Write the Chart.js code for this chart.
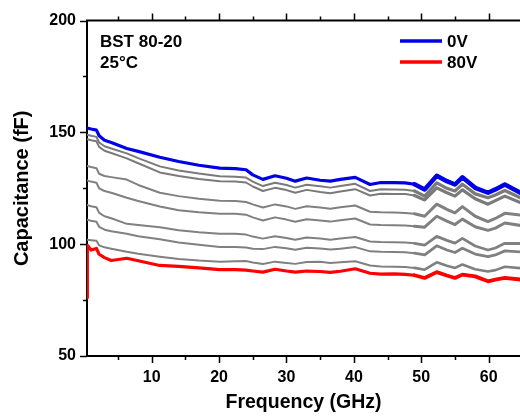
<!DOCTYPE html>
<html>
<head>
<meta charset="utf-8">
<script src="https://cdn.jsdelivr.net/npm/chart.js@4.4.1/dist/chart.umd.min.js"></script>
<style>
  html, body { margin: 0; padding: 0; background: #fff; }
  canvas { display: block; }
</style>
</head>
<body>
<canvas id="grafico" width="520" height="418"></canvas>
<script>
// frequency points (GHz), shared by all bias curves
const freq = [0.4, 0.45, 1, 1.8, 2.2, 3, 4, 6.3, 8, 11.2,
  14, 17, 20.1, 22.4, 24, 25, 26.5, 28.3, 30, 31.3,
  33, 35, 36.5, 38, 40.2, 42.4, 44, 46, 47.6, 49,
  50.5, 52.3, 53.8, 55, 56.1, 58, 59.9, 61, 62.4, 64.7];

// capacitance (fF)
const cap0V = [152, 152, 151.5, 151, 148.5, 146.5, 145.5, 142.8, 141.5, 138.9,
  137, 135.3, 134, 133.8, 133.3, 131, 129, 130.6, 129.5, 128.2,
  129.6, 128.6, 128.2, 129, 129.9, 126.7, 127.6, 127.5, 127.4, 126.8,
  124.5, 130.6, 128.2, 126.7, 129.9, 125.2, 123, 124.5, 126.7, 123];
const capMid1 = [149, 149, 148.5, 148, 145.5, 143.8, 142.8, 140.6, 138.5, 134.8,
  133, 131.6, 130.4, 130.2, 129.8, 128, 126, 127.5, 126.5, 125.3,
  126.6, 125.9, 125.3, 126, 127, 123.8, 124.6, 124.5, 124.4, 123.8,
  121.5, 127.4, 125, 123.8, 126.8, 122.5, 120.8, 122, 124, 120.8];
const capMid2 = [147, 147, 146.5, 146, 143.5, 141.8, 140.8, 138.4, 136.2, 132.1,
  130.5, 129.2, 128.2, 128, 127.6, 125.8, 123.8, 125.2, 124.2, 123,
  124.3, 123.3, 122.8, 123.6, 124.6, 121.8, 122.6, 122.5, 122.4, 121.8,
  119.8, 125.2, 123, 121.5, 124.3, 120.3, 117.9, 119.5, 121.5, 118.6];
const capMid3 = [135, 135, 134.5, 134, 131.5, 130.5, 130, 128.9, 126.5, 123,
  121.5, 120.3, 119.4, 119.3, 118.9, 117.8, 116.4, 117.8, 116.9, 115.8,
  117, 116.4, 115.9, 116.5, 117.3, 114.5, 114.3, 114.2, 114, 113.6,
  112.5, 117.9, 115.6, 114, 116.8, 112.5, 110.1, 111.5, 113.8, 113];
const capMid4 = [128.5, 128.5, 128, 127.5, 125, 123.8, 123, 120.8, 119.3, 116.9,
  115.2, 114.3, 113.6, 113.6, 113.2, 112, 110.6, 112, 111, 110,
  111.2, 110.6, 110.1, 110.7, 111.5, 108.8, 108.6, 108.5, 108.4, 108,
  107.6, 112.5, 110.3, 108.8, 111.2, 107.8, 106.2, 107.2, 109.5, 108.4];
const capMid5 = [117.5, 117.5, 117, 116.5, 114, 112.5, 111.6, 109.1, 108.6, 107.6,
  106.2, 105.3, 104.7, 104.7, 104.3, 103.4, 102.5, 103.6, 102.8, 102,
  103, 102.5, 102, 102.5, 103.2, 101.2, 101, 100.9, 100.8, 100.4,
  99.6, 103.5, 101.7, 100.5, 102.6, 99.2, 97.4, 98.3, 100.4, 100.3];
const capMid6 = [111, 111, 110.5, 110, 107.8, 106.5, 105.8, 104.7, 103.6, 102.2,
  100.8, 99.8, 98.8, 98.8, 98.5, 98, 97.8, 98.8, 98.2, 97.5,
  98.4, 98.1, 97.6, 98, 98.7, 96.8, 96.6, 96.5, 96.4, 96,
  95.2, 99.3, 97.4, 96.3, 98.2, 95.6, 94.4, 95.2, 97, 96.6];
const capMid7 = [102, 102, 101.8, 101.5, 99.5, 98.6, 98, 96.6, 95.7, 94.4,
  93.4, 92.7, 92.2, 92.4, 92.5, 91.8, 91.1, 92.2, 91.6, 91.2,
  92, 92.2, 91.6, 91.9, 92.4, 90.5, 90, 89.9, 89.8, 89.4,
  88.6, 91.9, 90.4, 89.4, 90.9, 88.8, 87.8, 88.4, 89.9, 89.3];
const cap80V = [76, 99.5, 97.4, 98.1, 95.5, 94, 92.7, 93.7, 92.6, 90.5,
  90.1, 89.4, 88.6, 88.6, 88.4, 88, 87.5, 88.8, 88, 87.5,
  88, 87.8, 87.4, 87.9, 89, 87, 86.6, 86.7, 86.5, 86.1,
  84.9, 87.5, 86, 84.9, 86.4, 85.6, 83.4, 84.2, 84.9, 84.2];

const xTicks = [5, 10, 15, 20, 25, 30, 35, 40, 45, 50, 55, 60];
const yTicks = [50, 75, 100, 125, 150, 175, 200];

const FONT = '"Liberation Sans", Arial, sans-serif';
const pontos = arr => arr.map((v, i) => ({ x: freq[i], y: v }));

// above ~49 GHz the measured traces get noisy, drawn as a wider band
function serie(label, dados, cor, largura, ruido, legenda) {
  return {
    label, data: pontos(dados), borderColor: cor, borderWidth: largura,
    borderCapStyle: 'round', borderJoinStyle: 'round',
    pointRadius: 0, tension: 0, fill: false, showInLegend: legenda,
    segment: {
      borderWidth: c => (c.p0.parsed.x >= 49 ? ruido : largura)
    }
  };
}

// blue and red first so they are painted on top of the grey curves
const datasets = [
  serie('0V', cap0V, '#0000e6', 3.2, 4.5, true),
  serie('80V', cap80V, '#ff0000', 3.2, 3.8, true),
  serie('bias 1', capMid1, '#7a7a7a', 2, 3.2, false),
  serie('bias 2', capMid2, '#7a7a7a', 2, 3.2, false),
  serie('bias 3', capMid3, '#808080', 2, 3, false),
  serie('bias 4', capMid4, '#808080', 2, 3, false),
  serie('bias 5', capMid5, '#808080', 2, 2.8, false),
  serie('bias 6', capMid6, '#808080', 2, 2.8, false),
  serie('bias 7', capMid7, '#808080', 2, 2.6, false)
];

const extras = {
  id: 'extras',
  afterDraw(chart) {
    const { ctx, chartArea: a, scales: { x, y } } = chart;
    ctx.save();
    ctx.strokeStyle = '#000';
    ctx.lineWidth = 2;
    ctx.beginPath();
    ctx.moveTo(a.left - 1, a.top);
    ctx.lineTo(a.right + 2, a.top);
    ctx.stroke();

    // tick marks, outward, minor ones shorter
    ctx.lineWidth = 1.5;
    xTicks.forEach(v => {
      const px = Math.round(x.getPixelForValue(v)) + 0.5;
      const len = v % 10 === 0 ? 7 : 4;
      ctx.beginPath();
      ctx.moveTo(px, a.bottom); ctx.lineTo(px, a.bottom + len);
      ctx.moveTo(px, a.top); ctx.lineTo(px, a.top - len);
      ctx.stroke();
    });
    yTicks.forEach(v => {
      const py = Math.round(y.getPixelForValue(v)) + 0.5;
      const len = v % 50 === 0 ? 7 : 4;
      ctx.beginPath();
      ctx.moveTo(a.left, py); ctx.lineTo(a.left - len, py);
      ctx.stroke();
    });

    // sample annotation
    ctx.fillStyle = '#000';
    ctx.font = 'bold 17px ' + FONT;
    ctx.textBaseline = 'alphabetic';
    ctx.textAlign = 'left';
    ctx.fillText('BST 80-20', 100, 47);
    ctx.fillText('25°C', 100, 68);

    // legend
    chart.data.datasets.filter(d => d.showInLegend).forEach((d, i) => {
      const ly = 41 + i * 21;
      ctx.strokeStyle = d.borderColor;
      ctx.lineWidth = 3.5;
      ctx.beginPath();
      ctx.moveTo(400, ly); ctx.lineTo(442, ly);
      ctx.stroke();
      ctx.fillStyle = '#000';
      ctx.fillText(d.label, 447, ly + 5.5);
    });
    ctx.restore();
  }
};

new Chart(document.getElementById('grafico'), {
  type: 'line',
  data: { datasets },
  options: {
    responsive: false,
    animation: false,
    devicePixelRatio: 1,
    layout: { padding: { top: 15, right: 0, left: 0, bottom: 0 } },
    plugins: { legend: { display: false }, tooltip: { enabled: false } },
    scales: {
      x: {
        type: 'linear', min: 0.4, max: 64.65,
        afterBuildTicks: s => { s.ticks = xTicks.map(v => ({ value: v })); },
        afterFit: s => { s.height = 62; },
        grid: { display: true, drawOnChartArea: false, drawTicks: false },
        border: { display: true, color: '#000', width: 2 },
        ticks: {
          autoSkip: false, maxRotation: 0, padding: 12, color: '#000',
          font: { family: FONT, size: 16, weight: 'bold' },
          callback: v => (v % 10 === 0 ? v : '')
        },
        title: {
          display: true, text: 'Frequency (GHz)', color: '#000',
          font: { family: FONT, size: 19.5, weight: 'bold' },
          padding: { top: 0, bottom: 4 }
        }
      },
      y: {
        type: 'linear', min: 50, max: 200,
        afterBuildTicks: s => { s.ticks = yTicks.map(v => ({ value: v })); },
        afterFit: s => { s.width = 87; },
        grid: { display: true, drawOnChartArea: false, drawTicks: false },
        border: { display: true, color: '#000', width: 2 },
        ticks: {
          autoSkip: false, padding: 11, color: '#000',
          font: { family: FONT, size: 16, weight: 'bold' },
          callback: v => (v % 50 === 0 ? v : '')
        },
        title: {
          display: true, text: 'Capacitance (fF)', color: '#000',
          font: { family: FONT, size: 20, weight: 'bold' },
          padding: { top: 10, bottom: 0 }
        }
      }
    }
  },
  plugins: [extras]
});
</script>
</body>
</html>
